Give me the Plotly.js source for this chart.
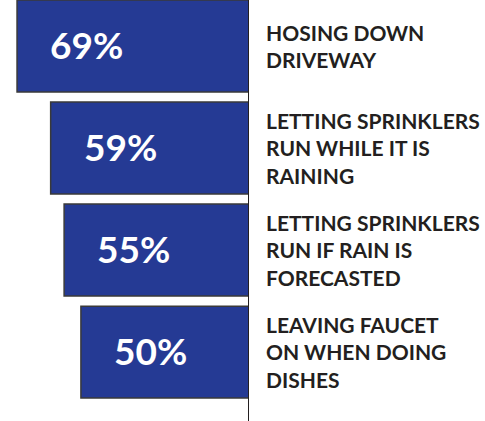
<!DOCTYPE html>
<html>
<head>
<meta charset="utf-8">
<script src="https://cdn.plot.ly/plotly-3.0.1.min.js"></script>
<style>html,body{margin:0;padding:0;background:#fff;}#chart{width:485px;height:421px;}</style>
</head>
<body>
<div id="chart"></div>
<script>
const categories = [
  "HOSING DOWN<br>DRIVEWAY",
  "LETTING SPRINKLERS<br>RUN WHILE IT IS<br>RAINING",
  "LETTING SPRINKLERS<br>RUN IF RAIN IS<br>FORECASTED",
  "LEAVING FAUCET<br>ON WHEN DOING<br>DISHES"
];
const values = [69, 59, 55, 50];
const valueLabels = values.map(v => v + "%");

const barColor = "#253a94";
const textColor = "#231f20";

const trace = {
  type: "bar",
  orientation: "h",
  x: values,
  y: categories,
  width: 0.9,
  marker: { color: barColor, line: { color: "#3a3a3a", width: 1.5 } },
  hoverinfo: "skip"
};

const annotations = [];
categories.forEach((c, i) => {
  annotations.push({
    xref: "x", yref: "y", x: 0, y: c,
    xanchor: "left", yanchor: "middle", align: "left",
    xshift: 15, showarrow: false,
    text: c,
    font: { family: "Lato", size: 21, color: textColor, weight: "bold" }
  });
  annotations.push({
    xref: "x", yref: "y", x: values[i], y: c,
    xanchor: "left", yanchor: "middle",
    xshift: 31, yshift: 2, showarrow: false,
    text: valueLabels[i],
    font: { family: "Lato", size: 37, color: "#ffffff", weight: "bold" }
  });
});

const layout = {
  width: 485, height: 421,
  margin: { l: 0, r: 0, t: 0, b: 0 },
  paper_bgcolor: "#ffffff", plot_bgcolor: "#ffffff",
  showlegend: false,
  xaxis: { domain: [0, 249/485], range: [74.07, 0], visible: false, fixedrange: true },
  yaxis: { range: [3.676, -0.451], visible: false, fixedrange: true },
  shapes: [{
    type: "line", xref: "x", yref: "paper", x0: 0, x1: 0, y0: 0, y1: 1,
    line: { color: textColor, width: 2 }, layer: "above"
  }],
  annotations: annotations
};

Plotly.newPlot("chart", [trace], layout, { displayModeBar: false, staticPlot: true });
</script>
</body>
</html>
